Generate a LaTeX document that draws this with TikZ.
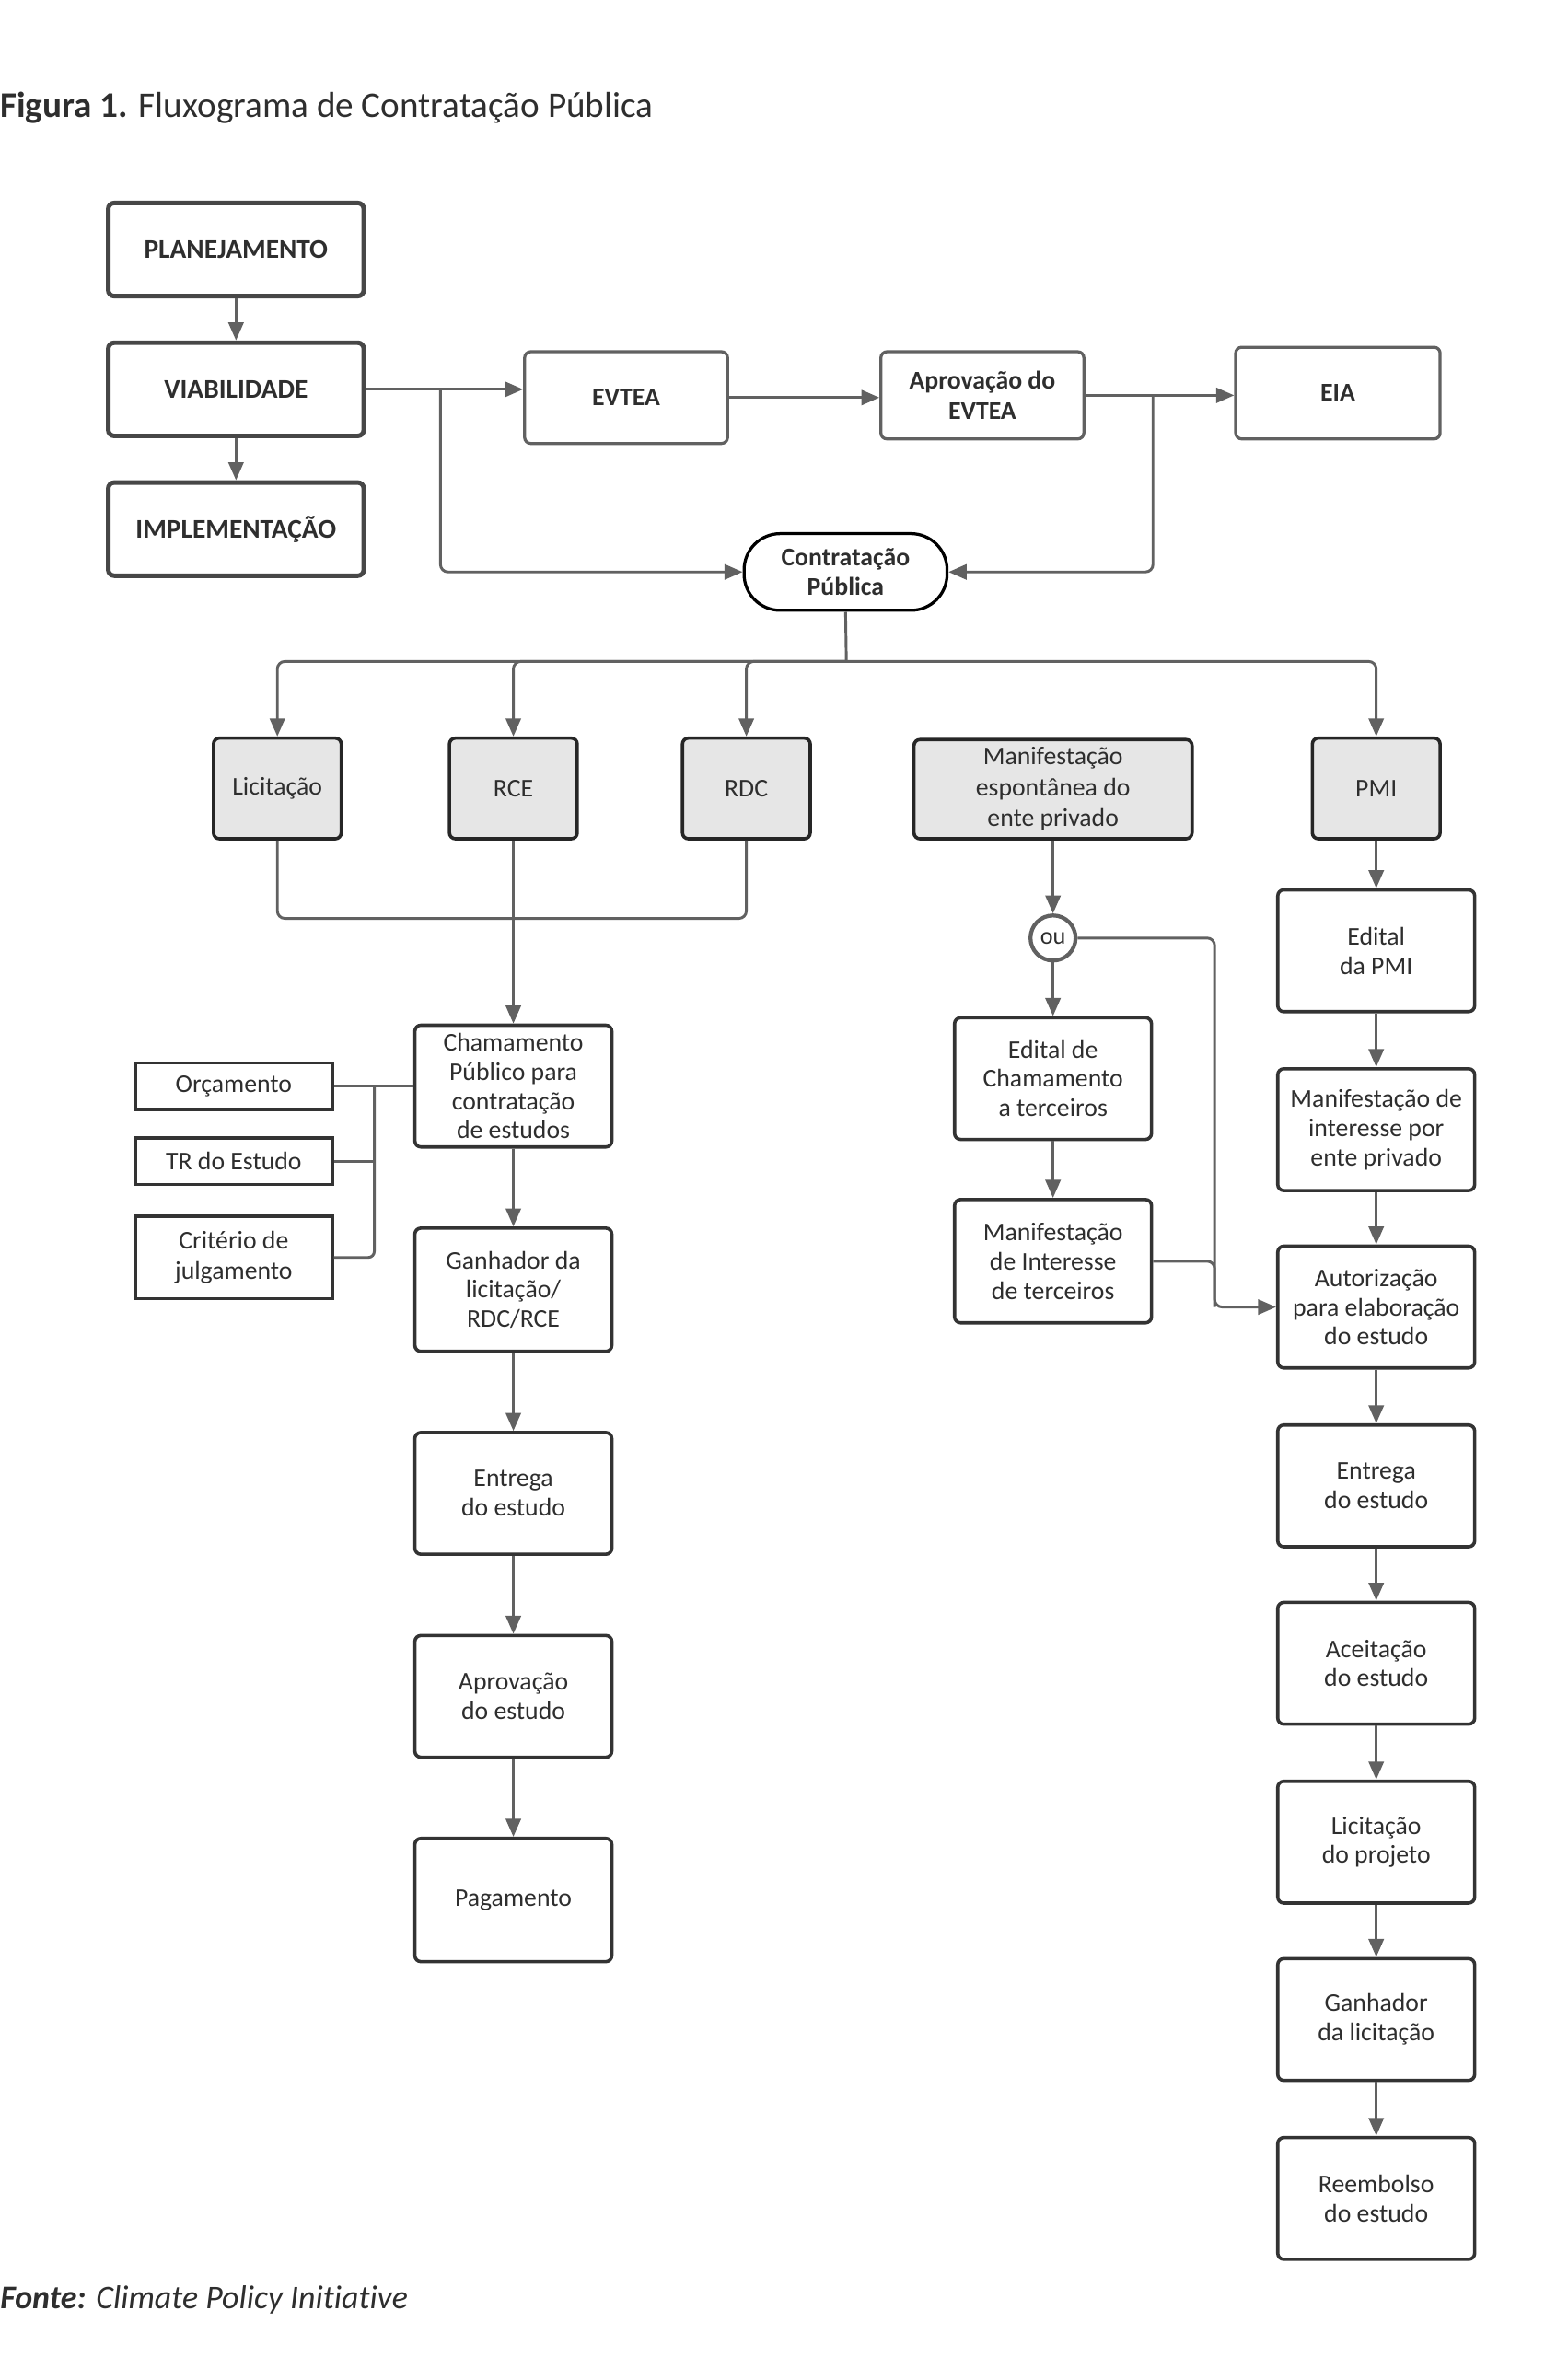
\documentclass[tikz,border=0pt]{standalone}
\usepackage{fontspec}
\setmainfont{Carlito}[Ligatures=NoCommon]
\usetikzlibrary{arrows.meta,calc}
\definecolor{ln}{HTML}{616161}
\definecolor{bd}{HTML}{333333}
\definecolor{tx}{HTML}{2E2E2E}
\definecolor{gf}{HTML}{E6E6E6}
\begin{document}
\begin{tikzpicture}[x=1pt,y=-1pt,
  every node/.style={text=tx},
  topbox/.style={draw=bd!90,line width=3pt,rounded corners=4pt,minimum width=170pt,minimum height=62pt,inner sep=0pt,align=center,font=\fontsize{18}{21}\selectfont\bfseries},
  hbox/.style={draw=ln,line width=2pt,rounded corners=4pt,minimum width=135pt,minimum height=61pt,inner sep=0pt,align=center,font=\fontsize{17}{20}\selectfont\bfseries},
  gbox/.style={draw=black!85,fill=gf,line width=2.2pt,rounded corners=4pt,minimum width=85pt,minimum height=67pt,inner sep=0pt,align=center,font=\fontsize{17}{20.5}\selectfont},
  wbox/.style={draw=bd,line width=2.2pt,rounded corners=4pt,minimum width=131pt,minimum height=81pt,inner sep=0pt,align=center,font=\fontsize{17}{19.5}\selectfont},
  sbox/.style={draw=bd,line width=2.2pt,minimum width=131pt,inner sep=0pt,align=center,font=\fontsize{17}{20}\selectfont},
  conn/.style={draw=ln,line width=1.8pt},
  arr/.style={-{Triangle[length=12pt,width=10pt]}},
]
\useasboundingbox (0,0) rectangle (1042.5,1568);

% title
\node[anchor=base west,inner sep=0pt,font=\fontsize{24}{28}\selectfont] (title) at (0,78) {\textbf{Figura 1.} Fluxograma de Contratação Pública};

% top-left column
\node[topbox] (plan) at (157,166) {PLANEJAMENTO};
\node[topbox] (viab) at (157,259) {VIABILIDADE};
\node[topbox] (impl) at (157,352) {IMPLEMENTAÇÃO};
\draw[conn,arr] (plan.south) -- (viab.north);
\draw[conn,arr] (viab.south) -- (impl.north);

% top row
\node[hbox] (evtea) at (416.5,264.5) {EVTEA};
\node[hbox,minimum height=58pt] (aprov) at (653.5,263) {Aprovação do\\EVTEA};
\node[hbox,minimum width=136pt] (eia) at (890,261.5) {EIA};
\node[draw=black,line width=2pt,rounded corners=24pt,minimum width=135pt,minimum height=51pt,inner sep=0pt,align=center,font=\fontsize{17}{20}\selectfont\bfseries] (contr) at (562.5,380.5) {Contratação\\Pública};

\draw[conn,arr] (viab.east) -- (viab.east -| evtea.west);
\coordinate (b1) at (293,259);
\draw[conn,arr,rounded corners=5pt] (b1) |- (contr.west);
\draw[conn,arr] (evtea.east) -- (evtea.east -| aprov.west);
\draw[conn,arr] (aprov.east) -- (aprov.east -| eia.west);
\coordinate (b2) at (767,263);
\draw[conn,arr,rounded corners=5pt] (b2) |- (contr.east);

% modalities
\node[gbox] (lic) at (184.5,524.5) {Licitação};
\node[gbox] (rce) at (341.5,524.5) {RCE};
\node[gbox] (rdc) at (496.5,524.5) {RDC};
\node[gbox,minimum width=185pt,minimum height=66pt,font=\fontsize{17}{20.5}\selectfont] (manif) at (700.5,525) {Manifestação\\espontânea do\\ente privado};
\node[gbox] (pmi) at (915.5,524.5) {PMI};

\coordinate (busc) at (563,440);
\draw[conn] (contr.south) -- (busc);
\draw[conn,arr,rounded corners=5pt] (busc) -| (lic.north);
\draw[conn,arr,rounded corners=5pt] (busc) -| (rce.north);
\draw[conn,arr,rounded corners=5pt] (busc) -| (rdc.north);
\draw[conn,arr,rounded corners=5pt] (busc) -| (pmi.north);

% left column
\node[wbox] (cham) at (341.5,722.5) {Chamamento\\Público para\\contratação\\de estudos};
\coordinate (j1) at (341.5,611);
\draw[conn,rounded corners=5pt] (lic.south) |- (j1);
\draw[conn,rounded corners=5pt] (rdc.south) |- (j1);
\draw[conn,arr] (rce.south) -- (cham.north);

\node[sbox,minimum height=31pt] (orc) at (155.5,722.5) {Orçamento};
\node[sbox,minimum height=31pt] (tr) at (155.5,772.5) {TR do Estudo};
\node[sbox,minimum height=55pt] (crit) at (155.5,836.5) {Critério de\\julgamento};
\draw[conn] (cham.west) -- (orc.east);
\coordinate (v1) at (249,722.5);
\draw[conn,rounded corners=4pt] (v1) |- (crit.east);
\draw[conn] (tr.east) -- (tr.east -| v1);

\node[wbox,minimum height=82pt] (gan) at (341.5,858) {Ganhador da\\licitação/\\RDC/RCE};
\node[wbox] (ent1) at (341.5,993.5) {Entrega\\do estudo};
\node[wbox] (apr2) at (341.5,1128.5) {Aprovação\\do estudo};
\node[wbox,minimum height=82pt] (pag) at (341.5,1264) {Pagamento};
\draw[conn,arr] (cham.south) -- (gan.north);
\draw[conn,arr] (gan.south) -- (ent1.north);
\draw[conn,arr] (ent1.south) -- (apr2.north);
\draw[conn,arr] (apr2.south) -- (pag.north);

% middle column
\node[circle,draw=ln,line width=2.6pt,minimum size=30pt,inner sep=0pt,font=\fontsize{16}{18}\selectfont] (ou) at (700.5,624) {ou};
\node[wbox] (edch) at (700.5,717.5) {Edital de\\Chamamento\\a terceiros};
\node[wbox,minimum height=82pt] (mint) at (700.5,839) {Manifestação\\de Interesse\\de terceiros};
\draw[conn,arr] (manif.south) -- (ou.north);
\draw[conn,arr] (ou.south) -- (edch.north);
\draw[conn,arr] (edch.south) -- (mint.north);

% right column
\node[wbox] (edpmi) at (915.5,632.5) {Edital\\da PMI};
\node[wbox] (mpriv) at (915.5,751.5) {Manifestação de\\interesse por\\ente privado};
\node[wbox] (aut) at (915.5,869.5) {Autorização\\para elaboração\\do estudo};
\node[wbox] (ent2) at (915.5,988.5) {Entrega\\do estudo};
\node[wbox] (acc) at (915.5,1106.5) {Aceitação\\do estudo};
\node[wbox] (licp) at (915.5,1225.5) {Licitação\\do projeto};
\node[wbox] (gan2) at (915.5,1343.5) {Ganhador\\da licitação};
\node[wbox] (reem) at (915.5,1462.5) {Reembolso\\do estudo};
\draw[conn,arr] (pmi.south) -- (edpmi.north);
\draw[conn,arr] (edpmi.south) -- (mpriv.north);
\draw[conn,arr] (mpriv.south) -- (aut.north);
\draw[conn,arr] (aut.south) -- (ent2.north);
\draw[conn,arr] (ent2.south) -- (acc.north);
\draw[conn,arr] (acc.south) -- (licp.north);
\draw[conn,arr] (licp.south) -- (gan2.north);
\draw[conn,arr] (gan2.south) -- (reem.north);

\coordinate (v2) at (808,624);
\draw[conn,arr,rounded corners=5pt] (ou.east) -- (v2) |- (aut.west);
\draw[conn,rounded corners=5pt] (mint.east) -| (v2 |- aut.west);

% source
\node[anchor=base west,inner sep=0pt,font=\fontsize{22}{26}\selectfont] (fonte) at (0,1536) {\textbf{\textit{Fonte:}} \textit{Climate Policy Initiative}};
\end{tikzpicture}
\end{document}
